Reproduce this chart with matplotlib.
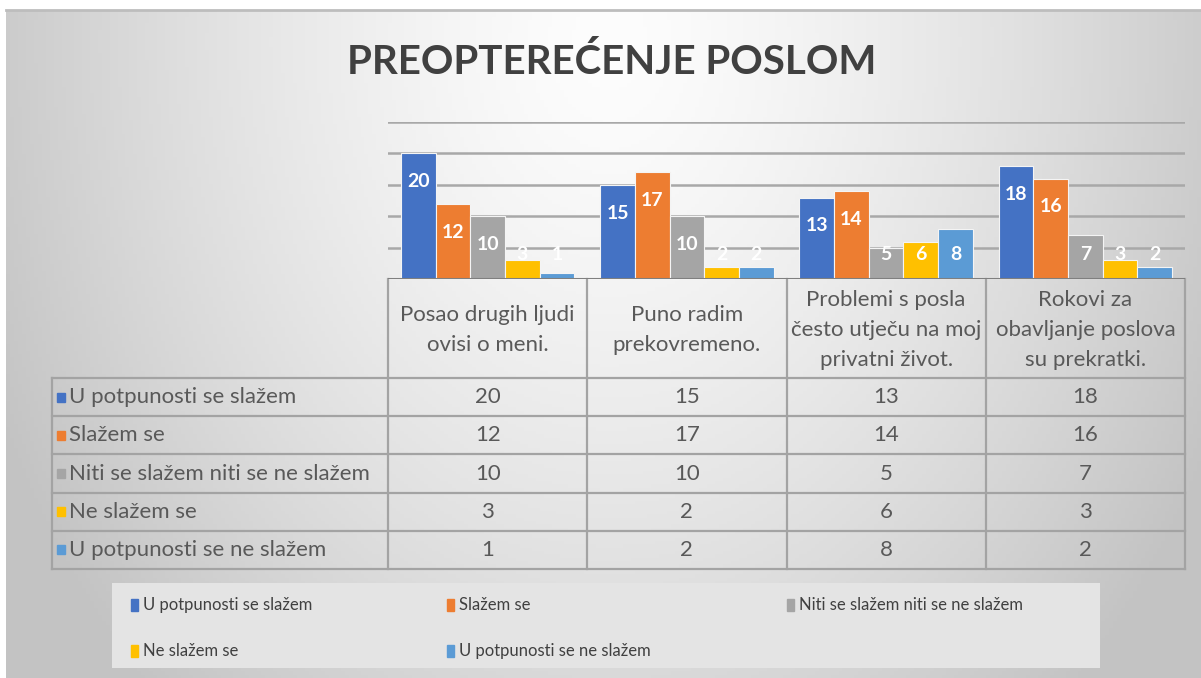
import numpy as np
import matplotlib
matplotlib.use('Agg')
import matplotlib.pyplot as plt
from matplotlib.patches import Rectangle

plt.rcParams['font.family'] = ['Lato', 'DejaVu Sans']

title = 'PREOPTEREĆENJE POSLOM'
categories = ['Posao drugih ljudi\novisi o meni.',
              'Puno radim\nprekovremeno.',
              'Problemi s posla\nčesto utječu na moj\nprivatni život.',
              'Rokovi za\nobavljanje poslova\nsu prekratki.']
series = ['U potpunosti se slažem', 'Slažem se',
          'Niti se slažem niti se ne slažem', 'Ne slažem se',
          'U potpunosti se ne slažem']
u_potpunosti_slazem = [20, 15, 13, 18]
slazem = [12, 17, 14, 16]
niti_niti = [10, 10, 5, 7]
ne_slazem = [3, 2, 6, 3]
u_potpunosti_ne = [1, 2, 8, 2]
values = [u_potpunosti_slazem, slazem, niti_niti, ne_slazem, u_potpunosti_ne]
colors = ['#4472C4', '#ED7D31', '#A5A5A5', '#FFC000', '#5B9BD5']

W, H = 1201, 678
fig = plt.figure(figsize=(W / 100, H / 100), dpi=100)

# background axes in pixel coordinates
bg = fig.add_axes([0, 0, 1, 1])
bg.set_xlim(0, W)
bg.set_ylim(H, 0)
bg.axis('off')

# radial grey gradient panel
xx, yy = np.meshgrid(np.linspace(6, W, 300), np.linspace(10, H, 200))
d = np.sqrt(((xx - 610) / 680) ** 2 + ((yy - 40) / 900) ** 2)
shade = 253 - 58 * np.clip(d, 0, 1) ** 1.4
img = np.dstack([shade, shade, shade]) / 255
bg.imshow(img, extent=(6, W, H, 10), aspect='auto', zorder=0)
bg.plot([6, W], [10, 10], color='#bdbdbd', lw=2, zorder=1)

bg.text(612, 62, title, ha='center', va='center', fontsize=29,
        fontweight='bold', color='#404040')

# table geometry (pixels)
x_left, x_lab, x_right = 52, 388, 1185
col_w = (x_right - x_lab) / len(categories)
y_top, y_head = 279, 378
row_h = 38.2
grid_c = '#a3a3a3'
y_rows = [y_head + i * row_h for i in range(len(series) + 1)]
for y in y_rows:
    bg.plot([x_left, x_right], [y, y], color=grid_c, lw=1.6, zorder=2)
bg.plot([x_left, x_left], [y_head, y_rows[-1]], color=grid_c, lw=1.6, zorder=2)
for j in range(len(categories) + 1):
    xc = x_lab + j * col_w
    bg.plot([xc, xc], [y_top, y_rows[-1]], color=grid_c, lw=1.6, zorder=2)

for j, cat in enumerate(categories):
    bg.text(x_lab + (j + 0.5) * col_w, 330, cat, ha='center', va='center',
            fontsize=16, color='#595959', linespacing=1.6)

for i, name in enumerate(series):
    yc = y_head + (i + 0.5) * row_h
    bg.add_patch(Rectangle((57, yc - 4.5), 8, 9, color=colors[i], zorder=3))
    bg.text(69, yc, name, ha='left', va='center', fontsize=16, color='#595959')
    for j, v in enumerate(values[i]):
        bg.text(x_lab + (j + 0.5) * col_w, yc, str(v), ha='center',
                va='center', fontsize=16, color='#595959')

# legend box
bg.add_patch(Rectangle((112, 583), 988, 85, facecolor='#e4e4e4',
                       edgecolor='none', zorder=1))
leg_pos = [(131, 605), (447, 605), (787, 605), (131, 651), (447, 651)]
for i, name in enumerate(series):
    lx, ly = leg_pos[i]
    bg.add_patch(Rectangle((lx, ly - 6), 7, 12, color=colors[i], zorder=3))
    bg.text(lx + 12, ly, name, ha='left', va='center', fontsize=12,
            color='#404040')

# bar chart axes
y_base = 279.3
y_25 = 122
ax = fig.add_axes([x_lab / W, (H - y_base) / H, (x_right - x_lab) / W,
                   (y_base - y_25) / H])
ax.patch.set_alpha(0)
ax.set_xlim(-0.5, len(categories) - 0.5)
ax.set_ylim(0, 25)
for s in ax.spines.values():
    s.set_visible(False)
ax.set_xticks([])
ax.set_yticks([])
for g in [5, 10, 15, 20, 25]:
    ax.axhline(g, color='#a8a8a8', lw=1.8, zorder=0)
ax.axhline(0, color='#7f7f7f', lw=2.2, zorder=3)

bw = 0.174
x = np.arange(len(categories))
for i, vals in enumerate(values):
    pos = x + (i - 2) * bw
    ax.bar(pos, vals, width=bw, color=colors[i], edgecolor='#f4f4f4',
           lw=0.8, zorder=2)
    for px, v in zip(pos, vals):
        ax.text(px, max(v - 4.5, 3.9), str(v), ha='center', va='center',
                color='white', fontsize=14, fontweight='bold', zorder=4)

fig.savefig('out.png', dpi=100)
